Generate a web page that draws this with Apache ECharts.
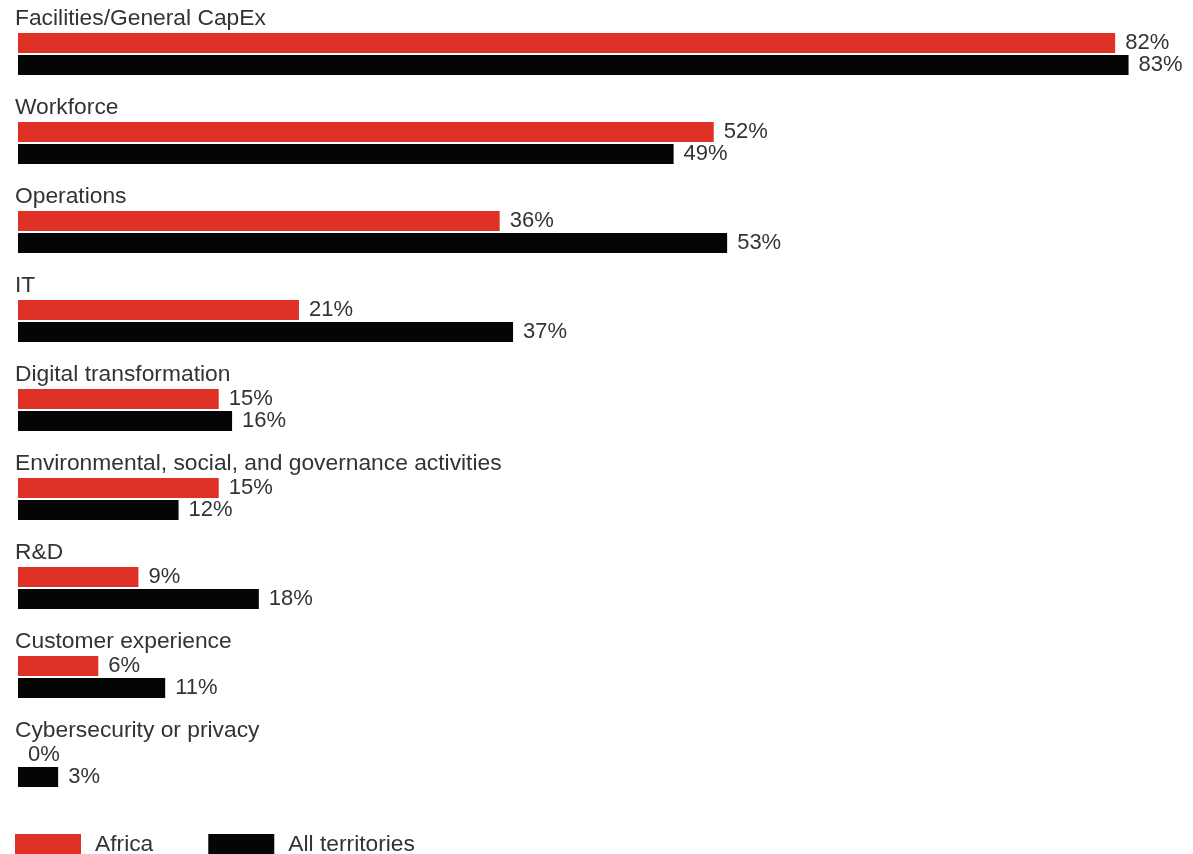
<!DOCTYPE html>
<html>
<head>
<meta charset="utf-8">
<script src="https://cdn.jsdelivr.net/npm/echarts@6/dist/echarts.min.js"></script>
<style>
  html, body { margin: 0; padding: 0; background: #fff; }
  #chart { width: 1193px; height: 854px; }
</style>
</head>
<body>
<div id="chart"></div>
<script>
// Share of respondents by investment area
const categories = [
  'Facilities/General CapEx',
  'Workforce',
  'Operations',
  'IT',
  'Digital transformation',
  'Environmental, social, and governance activities',
  'R&D',
  'Customer experience',
  'Cybersecurity or privacy'
];
const africa = [82, 52, 36, 21, 15, 15, 9, 6, 0];
const allTerritories = [83, 49, 53, 37, 16, 12, 18, 11, 3];
const seriesNames = ['Africa', 'All territories'];

const FONT = '"Liberation Sans", Arial, Helvetica, sans-serif';
const TEXT = '#333333';
const FS_VALUE = 22;
const FS_NAME = 22.8;

const chart = echarts.init(document.getElementById('chart'), null, { renderer: 'canvas' });

const valueLabel = {
  show: true,
  position: 'right',
  distance: 10,
  formatter: p => p.value + '%',
  fontFamily: FONT,
  fontSize: FS_VALUE,
  color: TEXT
};

chart.setOption({
  animation: false,
  backgroundColor: '#ffffff',
  grid: { left: 18, top: 9.5, height: 801, width: 1137.3, containLabel: false },
  xAxis: {
    type: 'value',
    min: 0,
    max: 85,
    show: false
  },
  yAxis: {
    type: 'category',
    data: categories,
    inverse: true,
    axisLine: { show: false },
    axisTick: { show: false },
    splitLine: { show: false },
    axisLabel: {
      inside: true,
      margin: -3,
      align: 'left',
      verticalAlign: 'middle',
      // category name sits above its pair of bars
      formatter: v => '{n|' + v + '}\n{s| }',
      rich: {
        n: { fontFamily: FONT, fontSize: FS_NAME, color: TEXT, lineHeight: 22 },
        s: { fontSize: 10, lineHeight: 70 }
      }
    }
  },
  legend: {
    left: 15,
    top: 833,
    padding: 0,
    itemWidth: 66,
    itemHeight: 21,
    itemGap: 55,
    icon: 'rect',
    textStyle: { fontFamily: FONT, fontSize: FS_NAME, color: TEXT, padding: [0, 0, 0, 9] },
    data: seriesNames
  },
  series: [
    {
      name: seriesNames[0],
      type: 'bar',
      data: africa,
      barWidth: 20,
      barGap: '10%',
      itemStyle: { color: '#e03127' },
      label: valueLabel
    },
    {
      name: seriesNames[1],
      type: 'bar',
      data: allTerritories,
      barWidth: 20,
      barGap: '10%',
      itemStyle: { color: '#050505' },
      label: valueLabel
    }
  ]
});
</script>
</body>
</html>
